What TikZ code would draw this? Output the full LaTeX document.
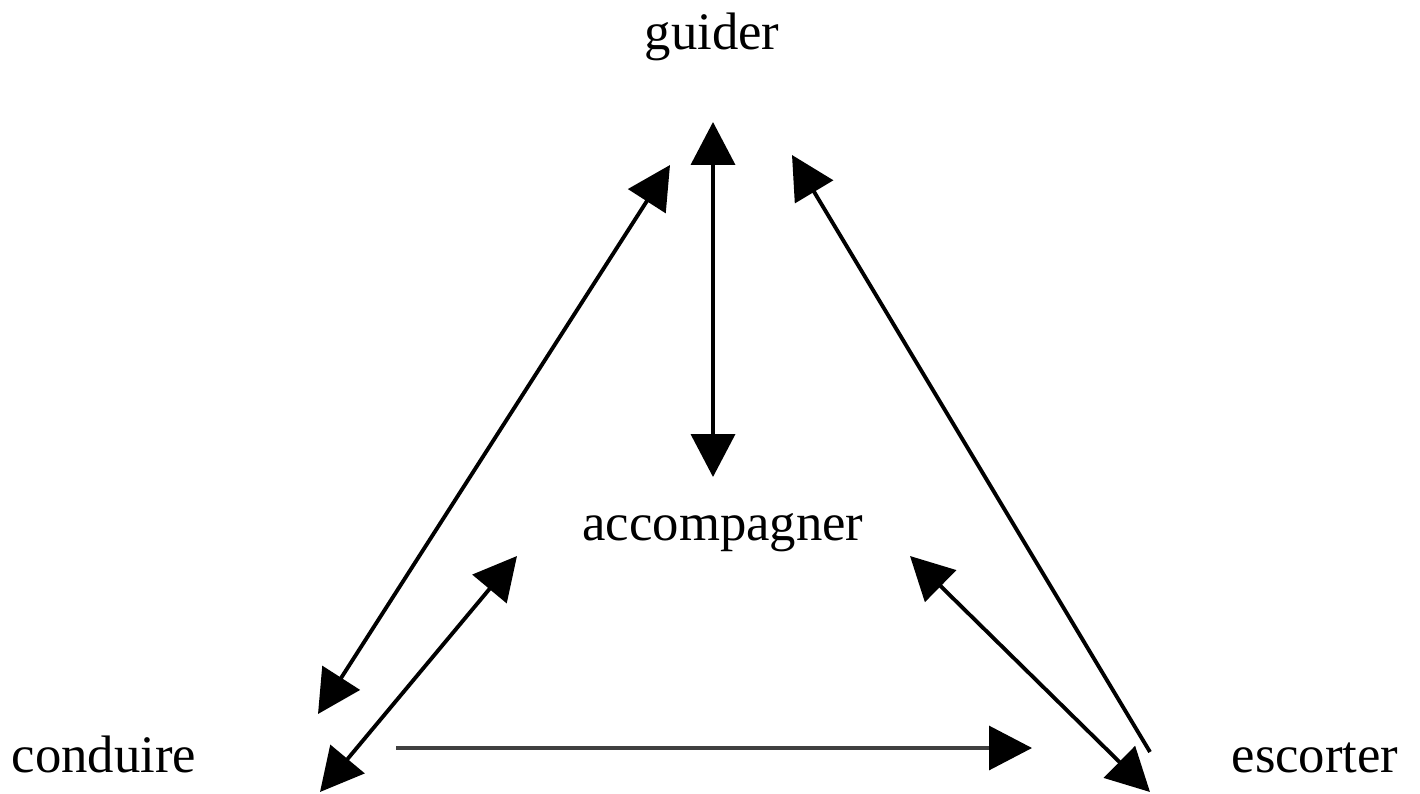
\documentclass[tikz,border=0pt]{standalone}
\usepackage{fontspec}
\setmainfont{Liberation Serif}
\usepackage{tikz}
\usetikzlibrary{arrows.meta}
\tikzset{
  rel/.style={line width=2.2pt, draw=black, -{Triangle[length=0.86cm,width=0.88cm,black]}},
  relb/.style={rel, {Triangle[length=0.86cm,width=0.88cm]}-{Triangle[length=0.86cm,width=0.88cm]}},
  verb/.style={font=\fontsize{30}{36}\selectfont, anchor=base, inner sep=0pt},
}
\begin{document}
\begin{tikzpicture}[x=0.02cm, y=-0.02cm]
  \useasboundingbox (0,0) rectangle (1420,794);

  \node[verb] (guider) at (712,50)  {guider};
  \node[verb] (accomp) at (723,540) {accompagner};
  \node[verb] (cond)   at (104,772) {conduire};
  \node[verb] (escort) at (1315,772) {escorter};

  \coordinate (GA) at (713,122);  % guider, down
  \coordinate (AG) at (713,477);  % accompagner, up
  \coordinate (GC) at (670,165);  % guider, left
  \coordinate (CG) at (318,714);  % conduire, up
  \coordinate (AC) at (517,556);  % accompagner, left
  \coordinate (CA) at (320,792);  % conduire, right
  \coordinate (CE) at (396,748);  % conduire, across
  \coordinate (EC) at (1032,748); % escorter, across
  \coordinate (AE) at (910,556);  % accompagner, right
  \coordinate (EA) at (1150,792); % escorter, up
  \coordinate (EG) at (1150,752); % escorter, long
  \coordinate (GE) at (792,155);  % guider, right

  \draw[relb] (AG)--(GA);
  \draw[relb] (CG)--(GC);
  \draw[relb] (CA)--(AC);
  \draw[rel, line width=1.8pt, draw=black!75] (CE)--(EC);
  \draw[relb] (AE)--(EA);
  \draw[rel] (EG)--(GE);
\end{tikzpicture}
\end{document}
